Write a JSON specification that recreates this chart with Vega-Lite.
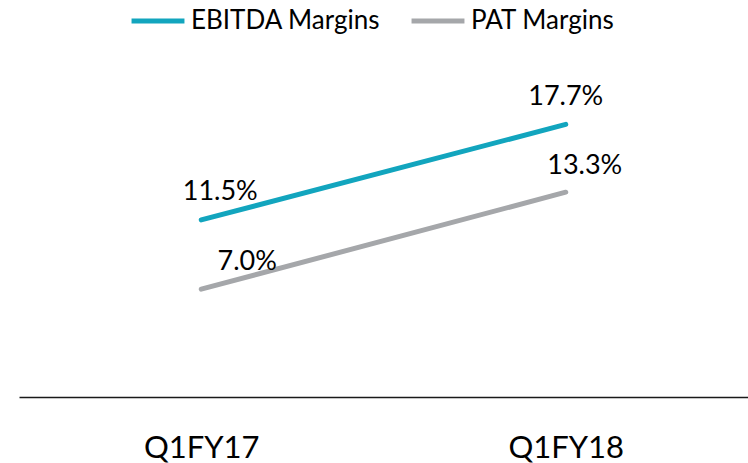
{
  "$schema": "https://vega.github.io/schema/vega-lite/v6.json",
  "autosize": {"type": "none"},
  "width": 729,
  "height": 308,
  "padding": {"left": 19, "top": 89, "right": 0, "bottom": 66},
  "background": "white",
  "config": {
    "view": {"stroke": null},
    "font": "Lato"
  },
  "data": {
    "values": [
      {"quarter": "Q1FY17", "series": "EBITDA Margins", "value": 11.5, "label": "11.5%"},
      {"quarter": "Q1FY18", "series": "EBITDA Margins", "value": 17.7, "label": "17.7%"},
      {"quarter": "Q1FY17", "series": "PAT Margins", "value": 7.0, "label": "7.0%"},
      {"quarter": "Q1FY18", "series": "PAT Margins", "value": 13.3, "label": "13.3%"}
    ]
  },
  "encoding": {
    "x": {
      "field": "quarter",
      "type": "ordinal",
      "scale": {"type": "point", "padding": 0.5},
      "axis": {
        "title": null,
        "labelAngle": 0,
        "labelFont": "Lato",
        "labelFontSize": 31,
        "labelColor": "#000000",
        "labelBaseline": "alphabetic",
        "labelPadding": 60,
        "ticks": false,
        "tickSize": 0,
        "grid": false,
        "domainColor": "#1a1a1a",
        "domainWidth": 1.5
      }
    },
    "y": {
      "field": "value",
      "type": "quantitative",
      "scale": {"domain": [0, 20], "nice": false, "zero": true},
      "axis": null
    }
  },
  "layer": [
    {
      "mark": {"type": "line", "strokeWidth": 5, "strokeCap": "round"},
      "encoding": {
        "color": {
          "field": "series",
          "type": "nominal",
          "scale": {"domain": ["EBITDA Margins", "PAT Margins"], "range": ["#12A5BE", "#A5A7AA"]},
          "legend": {
            "title": null,
            "orient": "none",
            "direction": "horizontal",
            "legendX": 110,
            "legendY": -97,
            "symbolType": "stroke",
            "symbolSize": 2800,
            "symbolStrokeWidth": 5,
            "labelFont": "Lato",
            "labelFontSize": 26,
            "labelColor": "#000000",
            "labelLimit": 0,
            "labelOffset": 4,
            "columnPadding": 20
          }
        }
      }
    },
    {
      "transform": [{"filter": "datum.label == '11.5%'"}],
      "mark": {"type": "text", "font": "Lato", "fontSize": 27, "color": "#000000", "baseline": "alphabetic", "align": "center", "dx": 19, "dy": -20},
      "encoding": {"text": {"field": "label"}}
    },
    {
      "transform": [{"filter": "datum.label == '17.7%'"}],
      "mark": {"type": "text", "font": "Lato", "fontSize": 27, "color": "#000000", "baseline": "alphabetic", "align": "center", "dx": 0, "dy": -19},
      "encoding": {"text": {"field": "label"}}
    },
    {
      "transform": [{"filter": "datum.label == '7.0%'"}],
      "mark": {"type": "text", "font": "Lato", "fontSize": 27, "color": "#000000", "baseline": "alphabetic", "align": "center", "dx": 46, "dy": -19},
      "encoding": {"text": {"field": "label"}}
    },
    {
      "transform": [{"filter": "datum.label == '13.3%'"}],
      "mark": {"type": "text", "font": "Lato", "fontSize": 27, "color": "#000000", "baseline": "alphabetic", "align": "center", "dx": 19, "dy": -18},
      "encoding": {"text": {"field": "label"}}
    }
  ]
}
